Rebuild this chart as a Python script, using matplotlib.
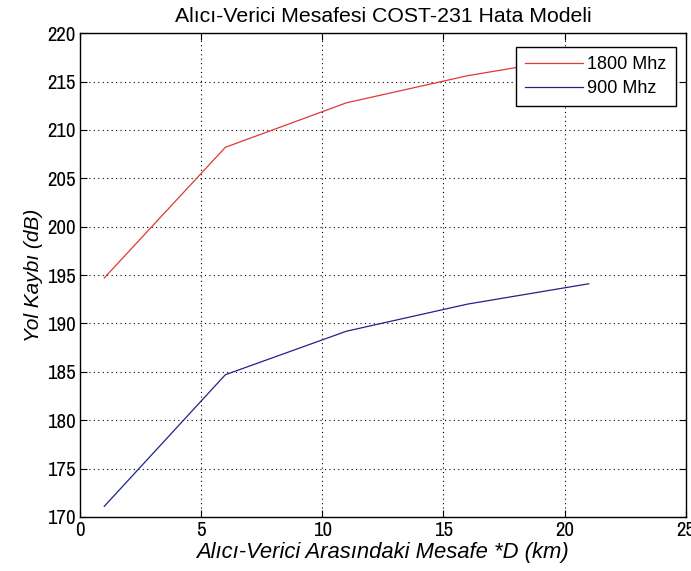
import matplotlib.pyplot as plt
from matplotlib import font_manager

mesafe = [1, 6, 11, 16, 21]
kayip_1800 = [194.7, 208.2, 212.8, 215.6, 217.7]
kayip_900 = [171.1, 184.7, 189.2, 192.0, 194.1]

names = {f.name for f in font_manager.fontManager.ttflist}
dar = 'Liberation Sans'
for cand in ['Liberation Sans Narrow', 'Archivo Narrow']:
    if cand in names:
        dar = cand
        break
plt.rcParams['font.family'] = ['Liberation Sans', 'DejaVu Sans']

fig = plt.figure(figsize=(6.91, 5.71), dpi=100)
ax = fig.add_axes([0.1158, 0.0946, 0.8765, 0.8474])

ax.plot(mesafe, kayip_1800, color='#e03838', lw=0.9, label='1800 Mhz')
ax.plot(mesafe, kayip_900, color='#222288', lw=0.9, label='900 Mhz')

ax.set_xlim(0, 25)
ax.set_ylim(170, 220)
ax.set_xticks(range(0, 26, 5))
ax.set_yticks(range(170, 221, 5))
ax.tick_params(direction='in', top=True, right=True, labelsize=15, length=5, pad=3)
for lbl in ax.get_xticklabels() + ax.get_yticklabels():
    lbl.set_family([dar, 'DejaVu Sans'])
ax.grid(True, color='black', linestyle=(0, (1, 3)), linewidth=0.8)
for s in ax.spines.values():
    s.set_linewidth(1.0)

ax.set_title('Alıcı-Verici Mesafesi COST-231 Hata Modeli', fontsize=15.3, pad=8)
ax.set_xlabel('Alıcı-Verici Arasındaki Mesafe *D (km)', fontsize=15.8, style='italic', labelpad=1)
ax.set_ylabel('Yol Kaybı (dB)', fontsize=15, style='italic', labelpad=3)

leg = ax.legend(loc='upper right', bbox_to_anchor=(0.9835, 0.971), fontsize=13,
                fancybox=False, framealpha=1, edgecolor='black', handlelength=3.2,
                borderaxespad=0, handletextpad=0.25, labelspacing=0.38, borderpad=0.5)
leg.get_frame().set_linewidth(1.0)

fig.savefig('out.png', dpi=100)
